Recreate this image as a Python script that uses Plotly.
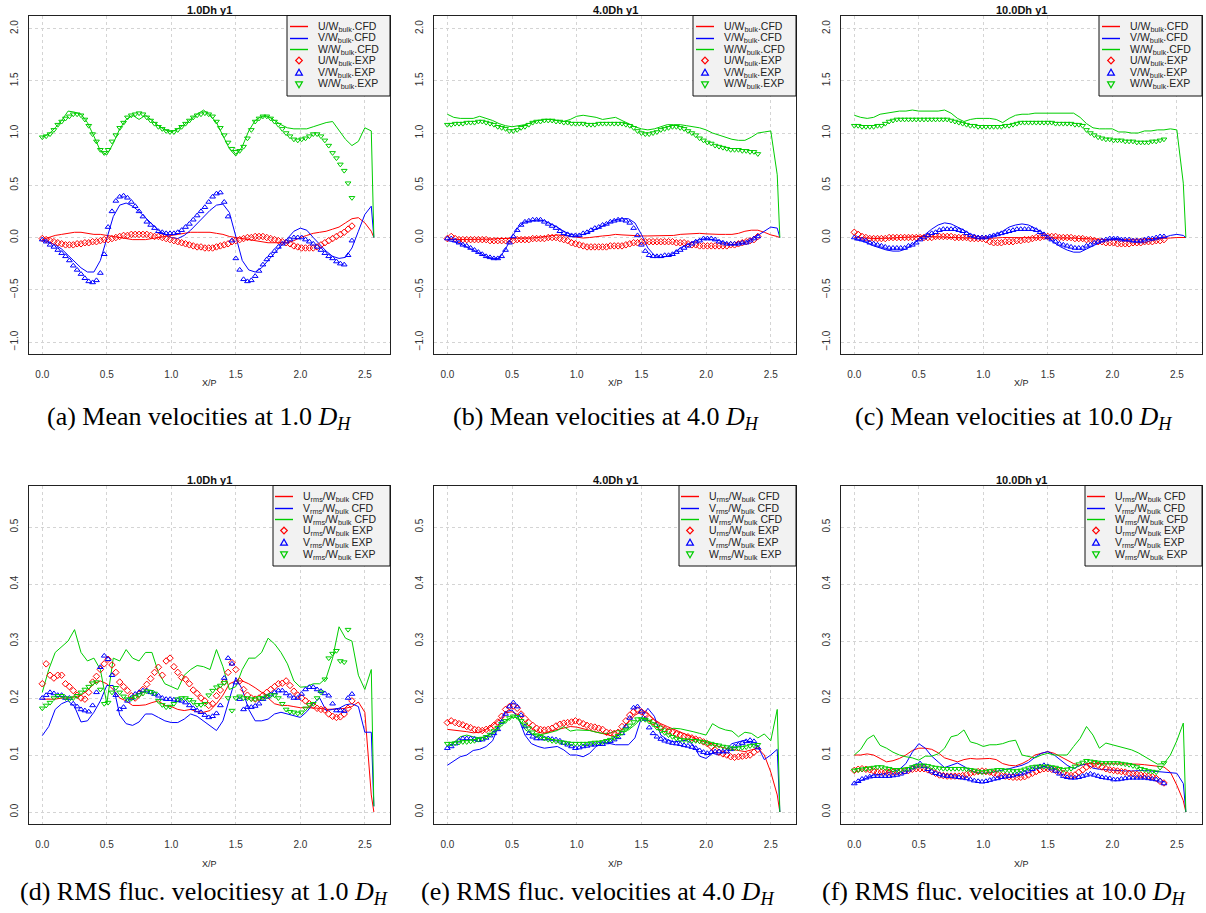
import plotly.graph_objects as go

W, H = 1206, 913

# ---------------- data ----------------
x_cfd = [round(0.05 * i, 2) for i in range(52)] + [2.57]
x_exp = [round(0.03 * i, 2) for i in range(81)]

# (a) mean, 1.0 Dh
a_u_cfd = [-0.02, 0.0, 0.02, 0.03, 0.04, 0.05, 0.05, 0.04, 0.03, 0.03,
           0.02, 0.01, 0.0, -0.01, -0.02, -0.02, -0.02, -0.01, 0.0, 0.01,
           0.02, 0.03, 0.04, 0.05, 0.05, 0.05, 0.05, 0.04, 0.03, 0.01,
           0.0, -0.01, -0.02, -0.03, -0.04, -0.05, -0.05, -0.05, -0.05, -0.03,
           0.0, 0.02, 0.04, 0.05, 0.06, 0.08, 0.10, 0.14, 0.18, 0.19,
           0.14, 0.06, 0.0]
a_v_cfd = [-0.03, -0.04, -0.07, -0.11, -0.17, -0.23, -0.29, -0.33, -0.33, -0.22,
           0.0, 0.2, 0.31, 0.33, 0.3, 0.25, 0.19, 0.13, 0.07, 0.03,
           0.0, -0.01, 0.02, 0.07, 0.13, 0.19, 0.26, 0.31, 0.32, 0.24,
           0.02, -0.22, -0.31, -0.33, -0.29, -0.22, -0.15, -0.07, 0.0, 0.06,
           0.09, 0.07, 0.0, -0.07, -0.13, -0.18, -0.2, -0.19, -0.1, 0.06,
           0.22, 0.3, 0.0]
a_w_cfd = [0.96, 0.99, 1.05, 1.12, 1.21, 1.2, 1.18, 1.1, 0.97, 0.83,
           0.79, 0.9, 1.04, 1.13, 1.17, 1.13, 1.17, 1.12, 1.07, 1.03,
           1.01, 1.04, 1.08, 1.13, 1.18, 1.22, 1.17, 1.1, 0.98, 0.85,
           0.78, 0.87, 1.02, 1.12, 1.16, 1.16, 1.12, 1.08, 1.05, 1.04,
           1.04, 1.04, 1.06, 1.08, 1.10, 1.11, 1.03, 0.94, 0.88, 0.92,
           1.05, 1.02, 0.0]
a_u_exp = [-0.01, -0.02, -0.03, -0.04, -0.05, -0.06, -0.07, -0.07, -0.07, -0.06,
           -0.06, -0.05, -0.05, -0.04, -0.04, -0.03, -0.02, -0.02, -0.01, 0.0,
           0.01, 0.02, 0.02, 0.03, 0.03, 0.03, 0.03, 0.03, 0.02, 0.01,
           0.01, 0.0, -0.01, -0.02, -0.03, -0.04, -0.05, -0.06, -0.07, -0.08,
           -0.09, -0.09, -0.10, -0.10, -0.10, -0.09, -0.08, -0.07, -0.06, -0.04,
           -0.03, -0.02, -0.01, 0.0, 0.0, 0.01, 0.01, 0.01, 0.0, -0.01,
           -0.02, -0.03, -0.04, -0.05, -0.06, -0.08, -0.09, -0.10, -0.10, -0.10,
           -0.10, -0.09, -0.07, -0.05, -0.03, -0.01, 0.01, 0.03, 0.05, 0.08,
           0.11]
a_v_exp = [-0.02, -0.04, -0.07, -0.09, -0.12, -0.15, -0.18, -0.22, -0.27, -0.31,
           -0.35, -0.39, -0.42, -0.43, -0.41, -0.34, -0.16, 0.10, 0.25, 0.35,
           0.39, 0.40, 0.38, 0.34, 0.30, 0.25, 0.20, 0.15, 0.12, 0.09,
           0.06, 0.05, 0.04, 0.04, 0.04, 0.05, 0.07, 0.10, 0.13, 0.17,
           0.21, 0.25, 0.29, 0.34, 0.39, 0.42, 0.43, 0.34, 0.20, -0.03,
           -0.20, -0.31, -0.40, -0.42, -0.41, -0.37, -0.32, -0.26, -0.21, -0.17,
           -0.13, -0.09, -0.06, -0.04, -0.02, 0.0, 0.0, 0.0, -0.02, -0.04,
           -0.06, -0.09, -0.12, -0.15, -0.18, -0.20, -0.23, -0.25, -0.26, -0.17,
           -0.03]
a_w_exp = [0.96, 0.97, 0.99, 1.03, 1.08, 1.11, 1.14, 1.16, 1.18, 1.18,
           1.17, 1.13, 1.07, 0.99, 0.92, 0.84, 0.81, 0.84, 0.92, 0.98,
           1.05, 1.10, 1.15, 1.17, 1.18, 1.19, 1.18, 1.15, 1.12, 1.09,
           1.06, 1.04, 1.02, 1.01, 1.01, 1.03, 1.06, 1.09, 1.12, 1.15,
           1.17, 1.18, 1.19, 1.18, 1.16, 1.11, 1.05, 0.98, 0.91, 0.85,
           0.82, 0.83, 0.87, 0.95, 1.03, 1.11, 1.14, 1.16, 1.16, 1.14,
           1.11, 1.08, 1.04, 1.00, 0.97, 0.94, 0.93, 0.94, 0.95, 0.97,
           0.99, 0.99, 0.97, 0.93, 0.88, 0.81, 0.76, 0.70, 0.64, 0.52,
           0.38]

# (b) mean, 4.0 Dh
b_u_cfd = [-0.02, -0.02, -0.02, -0.02, -0.02, -0.02, -0.015, -0.015, -0.01, -0.01,
           -0.01, -0.01, -0.01, -0.005, 0.0, 0.01, 0.02, 0.025, 0.02, 0.01,
           0.0, -0.005, 0.0, 0.01, 0.015, 0.02, 0.03, 0.025, 0.02, 0.015,
           0.015, 0.015, 0.015, 0.015, 0.015, 0.02, 0.03, 0.035, 0.04, 0.04,
           0.035, 0.03, 0.03, 0.03, 0.03, 0.04, 0.06, 0.07, 0.07, 0.05,
           0.025, 0.01, 0.0]
b_v_cfd = [-0.03, -0.04, -0.06, -0.09, -0.12, -0.15, -0.18, -0.2, -0.2, -0.11,
           0.01, 0.1, 0.15, 0.16, 0.17, 0.16, 0.13, 0.1, 0.06, 0.03,
           0.02, 0.03, 0.05, 0.08, 0.11, 0.14, 0.17, 0.18, 0.18, 0.14,
           0.03, -0.1, -0.17, -0.19, -0.18, -0.15, -0.1, -0.07, -0.04, -0.02,
           -0.01, -0.02, -0.03, -0.05, -0.07, -0.06, -0.05, -0.02, 0.02, 0.06,
           0.1, 0.09, 0.0]
b_w_cfd = [1.18, 1.15, 1.14, 1.14, 1.14, 1.16, 1.14, 1.12, 1.09, 1.07,
           1.06, 1.07, 1.08, 1.10, 1.12, 1.13, 1.13, 1.12, 1.11, 1.13,
           1.16, 1.17, 1.16, 1.15, 1.13, 1.14, 1.15, 1.12, 1.09, 1.06,
           1.04, 1.03, 1.04, 1.06, 1.08, 1.08, 1.08, 1.07, 1.06, 1.05,
           1.03, 1.00, 0.98, 0.96, 0.94, 0.93, 0.93, 0.96, 1.00, 1.01,
           1.02, 0.60, 0.0]
b_u_exp = [-0.01, 0.01, -0.01, -0.02, -0.02, -0.02, -0.02, -0.02, -0.02, -0.02,
           -0.02, -0.03, -0.03, -0.03, -0.03, -0.03, -0.03, -0.03, -0.02, -0.02,
           -0.02, -0.02, -0.01, -0.01, -0.01, -0.01, 0.0, 0.0, 0.0, -0.01,
           -0.02, -0.03, -0.05, -0.06, -0.07, -0.08, -0.09, -0.09, -0.09, -0.09,
           -0.09, -0.09, -0.08, -0.08, -0.08, -0.08, -0.07, -0.06, -0.05, -0.05,
           -0.04, -0.04, -0.04, -0.04, -0.04, -0.04, -0.04, -0.04, -0.04, -0.05,
           -0.05, -0.05, -0.06, -0.07, -0.07, -0.08, -0.08, -0.08, -0.08, -0.08,
           -0.08, -0.08, -0.08, -0.07, -0.07, -0.06, -0.05, -0.04, -0.03, -0.02,
           0.01]
b_v_exp = [-0.01, -0.01, -0.03, -0.05, -0.07, -0.08, -0.10, -0.12, -0.14, -0.16,
           -0.18, -0.19, -0.20, -0.20, -0.18, -0.12, -0.05, 0.01, 0.07, 0.12,
           0.15, 0.16, 0.17, 0.17, 0.17, 0.15, 0.13, 0.11, 0.09, 0.06,
           0.04, 0.03, 0.02, 0.02, 0.02, 0.04, 0.05, 0.07, 0.09, 0.10,
           0.12, 0.13, 0.15, 0.16, 0.17, 0.17, 0.16, 0.14, 0.09, 0.02,
           -0.07, -0.13, -0.17, -0.18, -0.18, -0.18, -0.17, -0.17, -0.16, -0.14,
           -0.12, -0.10, -0.08, -0.06, -0.04, -0.03, -0.01, -0.01, -0.01, -0.02,
           -0.04, -0.05, -0.06, -0.06, -0.06, -0.06, -0.05, -0.05, -0.03, -0.01,
           0.01]
b_w_exp = [1.08, 1.08, 1.09, 1.09, 1.09, 1.10, 1.10, 1.10, 1.11, 1.11,
           1.10, 1.09, 1.08, 1.06, 1.05, 1.04, 1.02, 1.02, 1.03, 1.05,
           1.06, 1.08, 1.10, 1.11, 1.11, 1.12, 1.12, 1.12, 1.11, 1.11,
           1.10, 1.10, 1.09, 1.09, 1.09, 1.09, 1.08, 1.08, 1.08, 1.09,
           1.09, 1.09, 1.09, 1.09, 1.09, 1.09, 1.08, 1.07, 1.05, 1.02,
           1.00, 0.99, 0.99, 1.00, 1.01, 1.03, 1.04, 1.05, 1.06, 1.06,
           1.05, 1.04, 1.02, 1.00, 0.98, 0.95, 0.93, 0.91, 0.90, 0.88,
           0.87, 0.86, 0.85, 0.84, 0.84, 0.84, 0.83, 0.83, 0.82, 0.82,
           0.80]

# (c) mean, 10.0 Dh
c_u_cfd = [0.0, 0.0, -0.005, -0.01, -0.01, -0.01, -0.005, 0.0, 0.0, 0.005,
           0.01, 0.01, 0.01, 0.01, 0.005, 0.0, 0.0, 0.0, -0.005, -0.01,
           -0.01, -0.01, -0.005, 0.0, 0.0, 0.0, 0.0, 0.0, 0.0, 0.0,
           0.0, 0.0, 0.0, 0.0, -0.005, -0.01, -0.01, -0.01, -0.015, -0.02,
           -0.02, -0.02, -0.02, -0.02, -0.02, -0.015, -0.01, -0.01, -0.01, -0.005,
           0.0, 0.0, 0.0]
c_v_cfd = [-0.02, -0.03, -0.05, -0.08, -0.10, -0.12, -0.13, -0.13, -0.11, -0.07,
           -0.02, 0.03, 0.08, 0.12, 0.14, 0.13, 0.10, 0.07, 0.03, 0.01,
           0.0, 0.01, 0.03, 0.06, 0.10, 0.12, 0.13, 0.12, 0.09, 0.05,
           0.0, -0.05, -0.09, -0.12, -0.14, -0.14, -0.11, -0.08, -0.05, -0.02,
           -0.01, -0.01, -0.03, -0.04, -0.05, -0.05, -0.03, -0.02, 0.0, 0.02,
           0.03, 0.02, 0.0]
c_w_cfd = [1.17, 1.15, 1.14, 1.15, 1.18, 1.19, 1.20, 1.21, 1.21, 1.22,
           1.21, 1.21, 1.21, 1.21, 1.22, 1.19, 1.14, 1.11, 1.13, 1.14,
           1.14, 1.14, 1.13, 1.10, 1.14, 1.17, 1.18, 1.18, 1.19, 1.19,
           1.19, 1.19, 1.19, 1.19, 1.19, 1.15, 1.09, 1.05, 1.04, 1.04,
           1.04, 1.01, 1.01, 1.00, 1.00, 1.02, 1.02, 1.03, 1.03, 1.04,
           1.03, 0.52, 0.0]
c_u_exp = [0.05, 0.03, 0.01, 0.0, -0.01, -0.01, -0.01, -0.01, -0.01, 0.0,
           0.0, 0.0, 0.0, 0.0, 0.0, 0.0, 0.0, 0.0, 0.0, 0.0,
           0.0, 0.01, 0.01, 0.01, 0.01, 0.01, 0.0, 0.0, 0.0, 0.0,
           -0.01, -0.01, -0.01, -0.01, -0.02, -0.04, -0.05, -0.05, -0.05, -0.04,
           -0.04, -0.04, -0.03, -0.03, -0.02, -0.02, -0.01, 0.0, 0.0, 0.01,
           0.01, 0.01, 0.01, 0.0, 0.0, 0.0, 0.0, -0.01, -0.01, -0.01,
           -0.02, -0.02, -0.03, -0.04, -0.04, -0.05, -0.05, -0.05, -0.06, -0.06,
           -0.06, -0.06, -0.05, -0.05, -0.05, -0.04, -0.04, -0.04, -0.03, -0.03,
           -0.02]
c_v_exp = [0.0, -0.01, -0.02, -0.03, -0.05, -0.06, -0.07, -0.08, -0.09, -0.10,
           -0.10, -0.10, -0.10, -0.10, -0.08, -0.07, -0.05, -0.02, 0.0, 0.02,
           0.04, 0.05, 0.07, 0.08, 0.08, 0.08, 0.08, 0.07, 0.06, 0.04,
           0.02, 0.01, 0.0, 0.0, 0.0, 0.01, 0.02, 0.03, 0.04, 0.05,
           0.06, 0.07, 0.08, 0.08, 0.08, 0.08, 0.08, 0.07, 0.05, 0.03,
           0.0, -0.02, -0.04, -0.06, -0.07, -0.08, -0.09, -0.10, -0.10, -0.10,
           -0.08, -0.07, -0.05, -0.04, -0.03, -0.02, -0.01, -0.01, -0.01, -0.02,
           -0.02, -0.02, -0.03, -0.03, -0.03, -0.02, -0.01, -0.01, 0.0, 0.01,
           0.01]
c_w_exp = [1.07, 1.07, 1.06, 1.06, 1.06, 1.06, 1.07, 1.07, 1.09, 1.11,
           1.12, 1.13, 1.13, 1.13, 1.13, 1.13, 1.13, 1.13, 1.13, 1.13,
           1.13, 1.13, 1.13, 1.13, 1.13, 1.12, 1.11, 1.10, 1.09, 1.08,
           1.07, 1.07, 1.06, 1.06, 1.06, 1.06, 1.06, 1.06, 1.06, 1.07,
           1.07, 1.08, 1.09, 1.10, 1.10, 1.10, 1.10, 1.10, 1.10, 1.10,
           1.10, 1.10, 1.09, 1.09, 1.09, 1.09, 1.09, 1.08, 1.08, 1.07,
           1.03, 1.00, 0.98, 0.96, 0.95, 0.94, 0.94, 0.93, 0.93, 0.93,
           0.92, 0.92, 0.92, 0.91, 0.91, 0.91, 0.91, 0.92, 0.92, 0.93,
           0.94]

# (d) rms, 1.0 Dh
d_u_cfd = [0.198, 0.198, 0.198, 0.2, 0.2, 0.202, 0.205, 0.213, 0.225, 0.23,
           0.225, 0.215, 0.2, 0.195, 0.187, 0.187, 0.188, 0.192, 0.195, 0.187,
           0.185, 0.18, 0.178, 0.18, 0.176, 0.175, 0.178, 0.19, 0.205, 0.225,
           0.23, 0.23, 0.225, 0.218, 0.21, 0.2, 0.19, 0.187, 0.187, 0.185,
           0.183, 0.183, 0.183, 0.182, 0.18, 0.18, 0.181, 0.182, 0.185, 0.193,
           0.175, 0.03, 0.0]
d_v_cfd = [0.134, 0.15, 0.18, 0.19, 0.195, 0.185, 0.158, 0.16, 0.175, 0.195,
           0.222, 0.222, 0.17, 0.155, 0.152, 0.158, 0.172, 0.172, 0.166, 0.16,
           0.157, 0.157, 0.163, 0.172, 0.168, 0.16, 0.152, 0.143, 0.16, 0.2,
           0.236, 0.215, 0.18, 0.16, 0.16, 0.163, 0.172, 0.175, 0.172, 0.17,
           0.166, 0.176, 0.19, 0.2, 0.178, 0.18, 0.182, 0.188, 0.19, 0.185,
           0.14, 0.14, 0.01]
d_w_cfd = [0.21, 0.25, 0.28, 0.29, 0.3, 0.32, 0.28, 0.265, 0.27, 0.25,
           0.19, 0.27, 0.265, 0.285, 0.27, 0.265, 0.28, 0.28, 0.245, 0.225,
           0.22, 0.215, 0.24, 0.25, 0.257, 0.255, 0.25, 0.285, 0.255, 0.215,
           0.22, 0.25, 0.27, 0.27, 0.28, 0.305, 0.295, 0.28, 0.26, 0.23,
           0.219, 0.22, 0.225, 0.225, 0.235, 0.27, 0.325, 0.305, 0.3, 0.24,
           0.215, 0.25, 0.01]
d_u_exp = [0.225, 0.26, 0.24, 0.235, 0.24, 0.24, 0.225, 0.22, 0.213, 0.205,
           0.2, 0.198, 0.21, 0.228, 0.238, 0.25, 0.26, 0.268, 0.258, 0.245,
           0.228, 0.22, 0.213, 0.204, 0.2, 0.207, 0.215, 0.224, 0.234, 0.245,
           0.254, 0.24, 0.265, 0.27, 0.255, 0.245, 0.236, 0.233, 0.225, 0.214,
           0.208, 0.2, 0.195, 0.187, 0.19, 0.204, 0.214, 0.228, 0.245, 0.262,
           0.25, 0.23, 0.215, 0.205, 0.2, 0.198, 0.2, 0.205, 0.21, 0.215,
           0.22, 0.225, 0.226, 0.23, 0.222, 0.212, 0.205, 0.2, 0.195, 0.19,
           0.187, 0.182, 0.18, 0.179, 0.172, 0.168, 0.166, 0.167, 0.172, 0.182,
           0.195]
d_v_exp = [0.2, 0.205, 0.21, 0.208, 0.205, 0.205, 0.2, 0.2, 0.19, 0.185,
           0.18, 0.178, 0.176, 0.187, 0.21, 0.254, 0.274, 0.268, 0.24, 0.205,
           0.18, 0.184, 0.195, 0.2, 0.207, 0.21, 0.213, 0.213, 0.21, 0.207,
           0.204, 0.2, 0.198, 0.198, 0.197, 0.196, 0.195, 0.192, 0.187, 0.182,
           0.178, 0.175, 0.17, 0.166, 0.168, 0.173, 0.187, 0.235, 0.27, 0.26,
           0.227, 0.198, 0.18, 0.184, 0.184, 0.186, 0.19, 0.198, 0.202, 0.206,
           0.21, 0.213, 0.213, 0.208, 0.204, 0.2, 0.2, 0.207, 0.215, 0.219,
           0.219, 0.215, 0.212, 0.208, 0.204, 0.19, 0.178, 0.178, 0.177, 0.2,
           0.207]
d_w_exp = [0.182, 0.187, 0.192, 0.2, 0.204, 0.204, 0.2, 0.198, 0.2, 0.204,
           0.21, 0.215, 0.22, 0.226, 0.228, 0.215, 0.19, 0.192, 0.21, 0.218,
           0.21, 0.203, 0.198, 0.199, 0.202, 0.205, 0.208, 0.212, 0.211, 0.208,
           0.195, 0.188, 0.184, 0.185, 0.19, 0.198, 0.2, 0.2, 0.197, 0.193,
           0.188, 0.188, 0.19, 0.205, 0.213, 0.219, 0.222, 0.227, 0.2, 0.178,
           0.2, 0.203, 0.2, 0.2, 0.198, 0.198, 0.2, 0.2, 0.203, 0.205,
           0.205, 0.2, 0.19, 0.18, 0.176, 0.175, 0.173, 0.175, 0.182, 0.188,
           0.19, 0.2, 0.21, 0.233, 0.27, 0.278, 0.283, 0.265, 0.263, 0.32,
           None]

# (e) rms, 4.0 Dh
e_u_cfd = [0.145, 0.144, 0.143, 0.141, 0.139, 0.14, 0.145, 0.152, 0.162, 0.174,
           0.176, 0.17, 0.158, 0.146, 0.14, 0.138, 0.142, 0.145, 0.147, 0.15,
           0.149, 0.146, 0.144, 0.141, 0.138, 0.134, 0.132, 0.145, 0.157, 0.17,
           0.176, 0.173, 0.162, 0.155, 0.15, 0.145, 0.14, 0.136, 0.13, 0.126,
           0.122, 0.118, 0.115, 0.112, 0.11, 0.108, 0.106, 0.109, 0.112, 0.1,
           0.07, 0.03, 0.0]
e_v_cfd = [0.082, 0.09, 0.097, 0.1, 0.108, 0.11, 0.115, 0.125, 0.153, 0.176,
           0.179, 0.165, 0.135, 0.12, 0.115, 0.112, 0.114, 0.115, 0.109, 0.1,
           0.1, 0.097, 0.103, 0.115, 0.123, 0.12, 0.118, 0.118, 0.118, 0.13,
           0.165, 0.182, 0.168, 0.135, 0.127, 0.123, 0.124, 0.126, 0.118, 0.098,
           0.094, 0.103, 0.1, 0.109, 0.12, 0.123, 0.126, 0.12, 0.115, 0.092,
           0.1, 0.11, 0.0]
e_w_cfd = [0.115, 0.122, 0.132, 0.135, 0.132, 0.13, 0.132, 0.14, 0.152, 0.16,
           0.167, 0.165, 0.145, 0.137, 0.135, 0.137, 0.14, 0.143, 0.15, 0.142,
           0.144, 0.144, 0.143, 0.14, 0.138, 0.138, 0.142, 0.144, 0.144, 0.153,
           0.164, 0.161, 0.156, 0.151, 0.144, 0.147, 0.146, 0.144, 0.141, 0.138,
           0.135, 0.155, 0.148, 0.144, 0.142, 0.132, 0.14, 0.138, 0.13, 0.137,
           0.125, 0.18, 0.0]
e_u_exp = [0.157, 0.16, 0.157, 0.155, 0.153, 0.15, 0.148, 0.145, 0.144, 0.143,
           0.145, 0.147, 0.152, 0.158, 0.168, 0.18, 0.185, 0.186, 0.182, 0.172,
           0.164, 0.157, 0.152, 0.147, 0.145, 0.144, 0.145, 0.147, 0.151, 0.154,
           0.156, 0.157, 0.158, 0.16, 0.158, 0.155, 0.152, 0.15, 0.149, 0.147,
           0.145, 0.14, 0.139, 0.138, 0.14, 0.15, 0.16, 0.17, 0.176, 0.179,
           0.176, 0.172, 0.164, 0.158, 0.153, 0.148, 0.145, 0.142, 0.14, 0.137,
           0.135, 0.133, 0.132, 0.13, 0.128, 0.126, 0.123, 0.12, 0.115, 0.109,
           0.105, 0.102, 0.1, 0.097, 0.096, 0.097, 0.098, 0.099, 0.1, 0.105,
           0.11]
e_v_exp = [0.112, 0.115, 0.12, 0.125, 0.129, 0.129, 0.129, 0.128, 0.126, 0.127,
           0.13, 0.134, 0.138, 0.145, 0.158, 0.172, 0.185, 0.192, 0.185, 0.17,
           0.15, 0.138, 0.132, 0.129, 0.129, 0.129, 0.129, 0.128, 0.127, 0.125,
           0.121, 0.118, 0.115, 0.112, 0.113, 0.115, 0.116, 0.118, 0.118, 0.119,
           0.119, 0.122, 0.124, 0.127, 0.131, 0.138, 0.15, 0.165, 0.183, 0.185,
           0.176, 0.163, 0.148, 0.138, 0.132, 0.128, 0.125, 0.123, 0.121, 0.12,
           0.119, 0.117, 0.116, 0.114, 0.112, 0.108, 0.105, 0.103, 0.105, 0.106,
           0.106, 0.106, 0.106, 0.11, 0.115, 0.118, 0.121, 0.124, 0.126, 0.124,
           0.113]
e_w_exp = [0.12, 0.12, 0.121, 0.122, 0.123, 0.123, 0.124, 0.125, 0.127, 0.129,
           0.132, 0.136, 0.142, 0.148, 0.155, 0.16, 0.165, 0.168, 0.167, 0.16,
           0.154, 0.147, 0.14, 0.135, 0.132, 0.129, 0.127, 0.125, 0.124, 0.123,
           0.122, 0.121, 0.12, 0.12, 0.12, 0.12, 0.12, 0.121, 0.122, 0.122,
           0.123, 0.125, 0.127, 0.13, 0.134, 0.139, 0.145, 0.152, 0.158, 0.163,
           0.163, 0.162, 0.159, 0.154, 0.148, 0.143, 0.139, 0.135, 0.132, 0.129,
           0.127, 0.126, 0.126, 0.125, 0.125, 0.124, 0.123, 0.121, 0.12, 0.118,
           0.117, 0.115, 0.114, 0.112, 0.112, 0.112, 0.113, 0.114, 0.116, 0.117,
           0.118]

# (f) rms, 10.0 Dh
f_u_cfd = [0.1, 0.1, 0.102, 0.1, 0.094, 0.088, 0.09, 0.094, 0.1, 0.108,
           0.112, 0.112, 0.11, 0.104, 0.095, 0.091, 0.088, 0.092, 0.094, 0.093,
           0.093, 0.094, 0.092, 0.085, 0.082, 0.081, 0.085, 0.091, 0.1, 0.103,
           0.106, 0.103, 0.097, 0.091, 0.085, 0.082, 0.085, 0.085, 0.085, 0.085,
           0.084, 0.084, 0.085, 0.085, 0.084, 0.083, 0.082, 0.081, 0.079, 0.07,
           0.047, 0.02, 0.0]
f_v_cfd = [0.05, 0.055, 0.06, 0.065, 0.066, 0.068, 0.071, 0.075, 0.085, 0.105,
           0.12, 0.112, 0.098, 0.088, 0.078, 0.082, 0.086, 0.08, 0.073, 0.069,
           0.068, 0.069, 0.071, 0.074, 0.076, 0.079, 0.082, 0.087, 0.096, 0.103,
           0.106, 0.1, 0.091, 0.082, 0.076, 0.082, 0.084, 0.077, 0.075, 0.074,
           0.074, 0.073, 0.072, 0.072, 0.073, 0.073, 0.072, 0.071, 0.07, 0.068,
           0.068, 0.05, 0.0]
f_w_cfd = [0.1, 0.11, 0.128, 0.135, 0.117, 0.112, 0.105, 0.1, 0.097, 0.095,
           0.091, 0.098, 0.098, 0.102, 0.112, 0.132, 0.135, 0.144, 0.123, 0.12,
           0.115, 0.118, 0.118, 0.12, 0.124, 0.126, 0.1, 0.097, 0.095, 0.1,
           0.103, 0.1, 0.1, 0.1, 0.115, 0.129, 0.15, 0.135, 0.112, 0.121,
           0.118, 0.115, 0.112, 0.109, 0.104, 0.097, 0.09, 0.084, 0.085, 0.1,
           0.125, 0.156, 0.0]
f_u_exp = [0.073, 0.075, 0.076, 0.075, 0.074, 0.072, 0.07, 0.07, 0.07, 0.07,
           0.07, 0.071, 0.071, 0.072, 0.073, 0.075, 0.076, 0.076, 0.076, 0.074,
           0.071, 0.068, 0.065, 0.064, 0.063, 0.063, 0.063, 0.063, 0.064, 0.066,
           0.068, 0.07, 0.071, 0.072, 0.071, 0.07, 0.068, 0.066, 0.064, 0.063,
           0.062, 0.061, 0.061, 0.061, 0.062, 0.065, 0.068, 0.071, 0.074, 0.076,
           0.076, 0.075, 0.073, 0.071, 0.068, 0.065, 0.064, 0.065, 0.07, 0.074,
           0.079, 0.082, 0.084, 0.082, 0.079, 0.076, 0.074, 0.073, 0.072, 0.071,
           0.07, 0.068, 0.067, 0.066, 0.065, 0.064, 0.063, 0.062, 0.059, 0.054,
           0.051]
f_v_exp = [0.05, 0.054, 0.058, 0.06, 0.062, 0.063, 0.063, 0.063, 0.063, 0.063,
           0.064, 0.065, 0.067, 0.07, 0.074, 0.078, 0.081, 0.085, 0.08, 0.075,
           0.071, 0.068, 0.066, 0.064, 0.063, 0.063, 0.062, 0.061, 0.06, 0.059,
           0.057, 0.055, 0.054, 0.053, 0.054, 0.056, 0.058, 0.059, 0.061, 0.062,
           0.063, 0.064, 0.066, 0.067, 0.069, 0.072, 0.075, 0.078, 0.08, 0.082,
           0.08, 0.076, 0.072, 0.067, 0.063, 0.061, 0.06, 0.06, 0.061, 0.063,
           0.065, 0.067, 0.065, 0.063, 0.061, 0.06, 0.059, 0.057, 0.057, 0.058,
           0.059, 0.06, 0.06, 0.06, 0.06, 0.06, 0.059, 0.058, 0.057, 0.055,
           0.05]
f_w_exp = [0.073, 0.074, 0.075, 0.076, 0.077, 0.078, 0.079, 0.079, 0.077, 0.076,
           0.074, 0.074, 0.074, 0.075, 0.076, 0.079, 0.081, 0.082, 0.082, 0.081,
           0.079, 0.078, 0.077, 0.076, 0.076, 0.076, 0.076, 0.076, 0.076, 0.075,
           0.074, 0.073, 0.071, 0.07, 0.071, 0.072, 0.073, 0.074, 0.074, 0.073,
           0.073, 0.072, 0.072, 0.073, 0.075, 0.077, 0.079, 0.08, 0.08, 0.08,
           0.08, 0.079, 0.078, 0.076, 0.074, 0.075, 0.076, 0.08, 0.084, 0.087,
           0.09, 0.089, 0.088, 0.087, 0.086, 0.086, 0.086, 0.086, 0.086, 0.085,
           0.084, 0.083, 0.081, 0.079, 0.076, 0.074, 0.072, 0.071, 0.07, 0.078,
           0.086]

x_ticks = [0.0, 0.5, 1.0, 1.5, 2.0, 2.5]
y_ticks_mean = [-1.0, -0.5, 0.0, 0.5, 1.0, 1.5, 2.0]
y_ticks_rms = [0.0, 0.1, 0.2, 0.3, 0.4, 0.5]

mean_labels = ["U/W<sub>bulk</sub>.CFD", "V/W<sub>bulk</sub>.CFD", "W/W<sub>bulk</sub>.CFD",
               "U/W<sub>bulk</sub>.EXP", "V/W<sub>bulk</sub>.EXP", "W/W<sub>bulk</sub>.EXP"]
rms_labels = ["U<sub>rms</sub>/W<sub>bulk</sub> CFD", "V<sub>rms</sub>/W<sub>bulk</sub> CFD",
              "W<sub>rms</sub>/W<sub>bulk</sub> CFD", "U<sub>rms</sub>/W<sub>bulk</sub> EXP",
              "V<sub>rms</sub>/W<sub>bulk</sub> EXP", "W<sub>rms</sub>/W<sub>bulk</sub> EXP"]

DH = "<i>D</i><sub><i>H</i></sub>"
panels = [
    dict(cols=(29, 390), rows=(16, 353.5), kind="mean", title="1.0Dh y1",
         cap="(a) Mean velocities at 1.0 " + DH, capx=199,
         data=(a_u_cfd, a_v_cfd, a_w_cfd, a_u_exp, a_v_exp, a_w_exp)),
    dict(cols=(434, 796), rows=(16, 353.5), kind="mean", title="4.0Dh y1",
         cap="(b) Mean velocities at 4.0 " + DH, capx=606,
         data=(b_u_cfd, b_v_cfd, b_w_cfd, b_u_exp, b_v_exp, b_w_exp)),
    dict(cols=(841, 1202), rows=(16, 353.5), kind="mean", title="10.0Dh y1",
         cap="(c) Mean velocities at 10.0 " + DH, capx=1013,
         data=(c_u_cfd, c_v_cfd, c_w_cfd, c_u_exp, c_v_exp, c_w_exp)),
    dict(cols=(29, 390), rows=(486, 824), kind="rms", title="1.0Dh y1",
         cap="(d) RMS fluc. velocitiesy at 1.0 " + DH, capx=204,
         data=(d_u_cfd, d_v_cfd, d_w_cfd, d_u_exp, d_v_exp, d_w_exp)),
    dict(cols=(434, 796), rows=(486, 824), kind="rms", title="4.0Dh y1",
         cap="(e) RMS fluc. velocities at 4.0 " + DH, capx=597,
         data=(e_u_cfd, e_v_cfd, e_w_cfd, e_u_exp, e_v_exp, e_w_exp)),
    dict(cols=(841, 1202), rows=(486, 824), kind="rms", title="10.0Dh y1",
         cap="(f) RMS fluc. velocities at 10.0 " + DH, capx=1004,
         data=(f_u_cfd, f_v_cfd, f_w_cfd, f_u_exp, f_v_exp, f_w_exp)),
]

COLORS = ["#ff0000", "#0000ff", "#00cd00"]
SYMBOLS = ["diamond-open", "triangle-up-open", "triangle-down-open"]
SANS = "Liberation Sans, Arial, sans-serif"
SERIF = "Liberation Serif, Times New Roman, serif"


def X(px):
    return px / W


def Y(py):
    return 1 - py / H


fig = go.Figure()
shapes = []
annotations = []
layout_axes = {}

for i, p in enumerate(panels, 1):
    sfx = "" if i == 1 else str(i)
    xa, ya = "x" + sfx, "y" + sfx
    cfd = p["data"][:3]
    exp = p["data"][3:]
    for vals, col in zip(cfd, COLORS):
        fig.add_trace(go.Scatter(x=x_cfd, y=vals, mode="lines",
                                 line=dict(color=col, width=1),
                                 xaxis=xa, yaxis=ya, showlegend=False, hoverinfo="skip"))
    for vals, col, sym in zip(exp, COLORS, SYMBOLS):
        fig.add_trace(go.Scatter(x=x_exp, y=vals, mode="markers",
                                 marker=dict(symbol=sym, size=5, color=col, line=dict(width=1, color=col)),
                                 xaxis=xa, yaxis=ya, showlegend=False, hoverinfo="skip"))

    l, r = p["cols"]
    t, b = p["rows"]
    mean = p["kind"] == "mean"
    common = dict(showline=True, mirror=True, linecolor="#222", linewidth=1,
                  showgrid=True, gridcolor="#d4d4d4", griddash="dot", gridwidth=1,
                  zeroline=False, ticks="outside", tickcolor="rgba(0,0,0,0)",
                  tickfont=dict(family=SANS, size=10, color="#333"), tickformat=".1f")
    layout_axes["xaxis" + sfx] = dict(common, domain=[X(l), X(r)], range=[-0.103, 2.695],
                                      tickvals=x_ticks, ticklen=11, anchor=ya)
    layout_axes["yaxis" + sfx] = dict(common, domain=[Y(b), Y(t)],
                                      range=[-1.11, 2.12] if mean else [-0.021, 0.572],
                                      tickvals=y_ticks_mean if mean else y_ticks_rms,
                                      tickangle=-90, ticklen=6, anchor=xa)

    cx = (l + r) / 2
    annotations.append(dict(text="<b>" + p["title"] + "</b>", x=X(cx), y=Y(t - 6),
                            xref="paper", yref="paper", showarrow=False,
                            xanchor="center", yanchor="middle",
                            font=dict(family=SANS, size=11, color="#111")))
    annotations.append(dict(text="X/P", x=X(cx), y=Y(b + 29.5 if mean else b + 40),
                            xref="paper", yref="paper", showarrow=False,
                            xanchor="center", yanchor="middle",
                            font=dict(family=SANS, size=9, color="#222")))
    annotations.append(dict(text=p["cap"], x=X(p["capx"]), y=Y(418 if mean else 893),
                            xref="paper", yref="paper", showarrow=False,
                            xanchor="center", yanchor="middle",
                            font=dict(family=SERIF, size=26, color="#000")))

    # legend box
    bw = 103 if mean else 117
    bl = r - bw
    bt = t - 0.5
    bb = bt + 80.5
    shapes.append(dict(type="rect", xref="paper", yref="paper", x0=X(bl), x1=X(r),
                       y0=Y(bb), y1=Y(bt), fillcolor="#f2f2f2",
                       line=dict(color="#111", width=1), layer="above"))
    lx0, lx1, mx, tx = (3, 21, 12, 29) if mean else (2, 20, 11, 28)
    labels = mean_labels if mean else rms_labels
    for k in range(6):
        cy = round(bt + 10.5 + 11.5 * k) + 0.5
        col = COLORS[k % 3]
        if k < 3:
            shapes.append(dict(type="line", xref="paper", yref="paper",
                               x0=X(bl + lx0), x1=X(bl + lx1), y0=Y(cy), y1=Y(cy),
                               line=dict(color=col, width=1.4), layer="above"))
        else:
            c = bl + mx
            if k == 3:
                pts = [(c, cy - 3.3), (c + 3.3, cy), (c, cy + 3.3), (c - 3.3, cy)]
            elif k == 4:
                pts = [(c - 3.4, cy + 2.6), (c + 3.4, cy + 2.6), (c, cy - 3.3)]
            else:
                pts = [(c - 3.4, cy - 2.6), (c + 3.4, cy - 2.6), (c, cy + 3.3)]
            path = "M " + " L ".join(f"{X(a):.5f},{Y(q):.5f}" for a, q in pts) + " Z"
            shapes.append(dict(type="path", xref="paper", yref="paper", path=path,
                               line=dict(color=col, width=1.2), layer="above"))
        annotations.append(dict(text=labels[k], x=X(bl + tx), y=Y(cy),
                                xref="paper", yref="paper", showarrow=False,
                                xanchor="left", yanchor="middle",
                                font=dict(family=SANS, size=10.5, color="#222")))

fig.update_layout(width=W, height=H, margin=dict(l=0, r=0, t=0, b=0),
                  paper_bgcolor="white", plot_bgcolor="white",
                  showlegend=False, shapes=shapes, annotations=annotations,
                  font=dict(family=SANS), **layout_axes)

fig.write_html("out.html",
               config={"displayModeBar": False, "staticPlot": True},
               post_script="document.body.style.margin='0px';document.body.style.overflow='hidden';")
